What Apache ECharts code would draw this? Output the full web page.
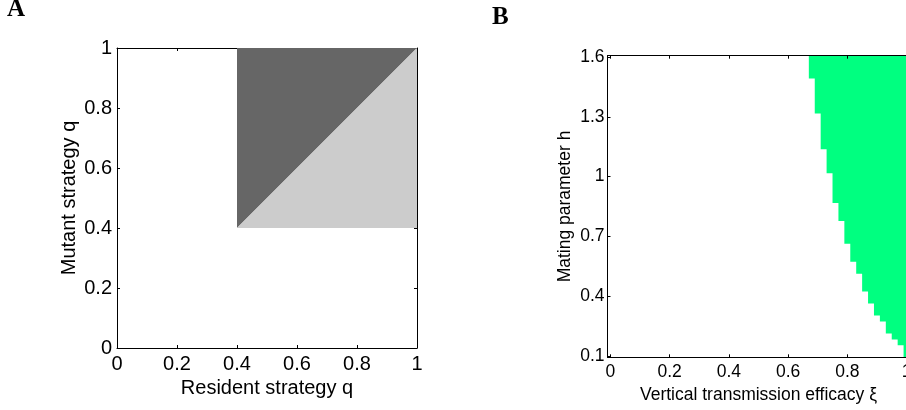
<!DOCTYPE html>
<html>
<head>
<meta charset="utf-8">
<script src="https://cdn.jsdelivr.net/npm/echarts@6/dist/echarts.min.js"></script>
<style>
html,body{margin:0;padding:0;background:#fff;}
#chart{width:906px;height:410px;}
</style>
</head>
<body>
<div id="chart"></div>
<script>
// ---------- Panel A data ----------
const aTicks = [0, 0.2, 0.4, 0.6, 0.8, 1];
const darkRegion = [[0.4, 0.4], [0.4, 1], [1, 1]];   // resident q, mutant q
const lightRegion = [[0.4, 0.4], [1, 1], [1, 0.4]];

// ---------- Panel B data ----------
const bXTicks = [0, 0.2, 0.4, 0.6, 0.8, 1];
const bYTicks = [0.1, 0.4, 0.7, 1, 1.3, 1.6];
// column centres of vertical transmission efficacy xi
const xiCols = [0.68, 0.70, 0.72, 0.74, 0.76, 0.78, 0.80, 0.82, 0.84, 0.86, 0.88, 0.90, 0.92, 0.94, 0.96, 0.98, 1.00];
// lowest mating parameter h (cell centre) inside the green region for each column
const hMinCols = [1.50, 1.325, 1.145, 1.025, 0.875, 0.785, 0.67, 0.58, 0.52, 0.43, 0.37, 0.31, 0.28, 0.22, 0.19, 0.16, 0.10];
const hMax = 1.6;
const xiStep = 0.02;
const hStep = 0.015;

const FONT = "'Liberation Sans', Arial, Helvetica, sans-serif";

function polygonRenderer(points, color) {
  return function (params, api) {
    if (params.dataIndex !== 0) return null;
    return {
      type: 'polygon',
      shape: { points: points.map(p => api.coord(p)) },
      style: { fill: color, stroke: null }
    };
  };
}

function axisCommon(extra) {
  return Object.assign({
    type: 'value',
    splitLine: { show: false },
    axisLine: { show: true, onZero: false, lineStyle: { color: '#000', width: 1 } },
    axisTick: { show: true, inside: true, length: 3, lineStyle: { color: '#000', width: 1 } },
  }, extra);
}

const chart = echarts.init(document.getElementById('chart'), null, { renderer: 'canvas' });

const option = {
  animation: false,
  backgroundColor: '#fff',
  grid: [
    { left: 117, top: 48, width: 300, height: 300, containLabel: false, outerBoundsMode: 'none' },
    { left: 607.5, top: 55.7, width: 302, height: 301.6, containLabel: false, outerBoundsMode: 'none' }
  ],
  xAxis: [
    axisCommon({
      gridIndex: 0, position: 'bottom', min: 0, max: 1,
      axisTick: { show: true, inside: true, length: 3, customValues: aTicks, lineStyle: { color: '#000' } },
      axisLabel: { customValues: aTicks, color: '#000', fontFamily: FONT, fontSize: 20, margin: 6 },
      name: 'Resident strategy q', nameLocation: 'middle', nameGap: 25,
      nameTextStyle: { color: '#000', fontFamily: FONT, fontSize: 20 }
    }),
    axisCommon({
      gridIndex: 0, position: 'top', min: 0, max: 1,
      axisTick: { show: true, inside: true, length: 3, customValues: aTicks, lineStyle: { color: '#000' } },
      axisLabel: { show: false }
    }),
    axisCommon({
      gridIndex: 1, position: 'bottom', min: -0.01, max: 1.01, z: 5,
      axisTick: { show: true, inside: true, length: 3, customValues: bXTicks, lineStyle: { color: '#000' } },
      axisLabel: { customValues: bXTicks, color: '#000', fontFamily: FONT, fontSize: 17.5, margin: 6 },
      name: 'Vertical transmission efficacy ξ', nameLocation: 'middle', nameGap: 22,
      nameTextStyle: { color: '#000', fontFamily: FONT, fontSize: 17.5 }
    }),
    axisCommon({
      gridIndex: 1, position: 'top', min: -0.01, max: 1.01, z: 5,
      axisTick: { show: true, inside: true, length: 3, customValues: bXTicks, lineStyle: { color: '#000' } },
      axisLabel: { show: false }
    })
  ],
  yAxis: [
    axisCommon({
      gridIndex: 0, position: 'left', min: 0, max: 1,
      axisTick: { show: true, inside: true, length: 3, customValues: aTicks, lineStyle: { color: '#000' } },
      axisLabel: { customValues: aTicks, color: '#000', fontFamily: FONT, fontSize: 20, margin: 5 },
      name: 'Mutant strategy q', nameLocation: 'middle', nameGap: 38,
      nameTextStyle: { color: '#000', fontFamily: FONT, fontSize: 20 }
    }),
    axisCommon({
      gridIndex: 0, position: 'right', min: 0, max: 1,
      axisTick: { show: true, inside: true, length: 3, customValues: aTicks, lineStyle: { color: '#000' } },
      axisLabel: { show: false }
    }),
    axisCommon({
      gridIndex: 1, position: 'left', min: 0.0925, max: 1.6075, z: 5,
      axisTick: { show: true, inside: true, length: 3, customValues: bYTicks, lineStyle: { color: '#000' } },
      axisLabel: { customValues: bYTicks, color: '#000', fontFamily: FONT, fontSize: 17.5, margin: 3 },
      name: 'Mating parameter h', nameLocation: 'middle', nameGap: 33,
      nameTextStyle: { color: '#000', fontFamily: FONT, fontSize: 17.5 }
    }),
    axisCommon({
      gridIndex: 1, position: 'right', min: 0.0925, max: 1.6075, z: 5,
      axisTick: { show: true, inside: true, length: 3, customValues: bYTicks, lineStyle: { color: '#000' } },
      axisLabel: { show: false }
    })
  ],
  series: [
    {
      type: 'custom', xAxisIndex: 0, yAxisIndex: 0, z: 3,
      data: darkRegion,
      renderItem: polygonRenderer(darkRegion, '#666666')
    },
    {
      type: 'custom', xAxisIndex: 0, yAxisIndex: 0, z: 3,
      data: lightRegion,
      renderItem: polygonRenderer(lightRegion, '#cccccc')
    },
    {
      type: 'custom', xAxisIndex: 2, yAxisIndex: 2, z: 2,
      data: xiCols.map((x, i) => [x, hMinCols[i]]),
      renderItem: function (params, api) {
        if (params.dataIndex !== 0) return null;
        // staircase polygon built from all columns
        const top = hMax + hStep / 2;
        const pts = [];
        pts.push(api.coord([xiCols[0] - xiStep / 2, top]));
        for (let i = 0; i < xiCols.length; i++) {
          const xl = xiCols[i] - xiStep / 2, xr = xiCols[i] + xiStep / 2;
          const hb = hMinCols[i] - hStep / 2;
          pts.push(api.coord([xl, hb]));
          pts.push(api.coord([xr, hb]));
        }
        pts.push(api.coord([xiCols[xiCols.length - 1] + xiStep / 2, top]));
        return {
          type: 'polygon',
          shape: { points: pts },
          style: { fill: '#00ff80', stroke: null }
        };
      }
    }
  ],
  graphic: [
    { type: 'text', left: 7, top: -3, style: { text: 'A', font: "bold 25px 'Liberation Serif', 'Times New Roman', serif", fill: '#000' } },
    { type: 'text', left: 492, top: 5, style: { text: 'B', font: "bold 25px 'Liberation Serif', 'Times New Roman', serif", fill: '#000' } }
  ]
};

chart.setOption(option);
</script>
</body>
</html>
